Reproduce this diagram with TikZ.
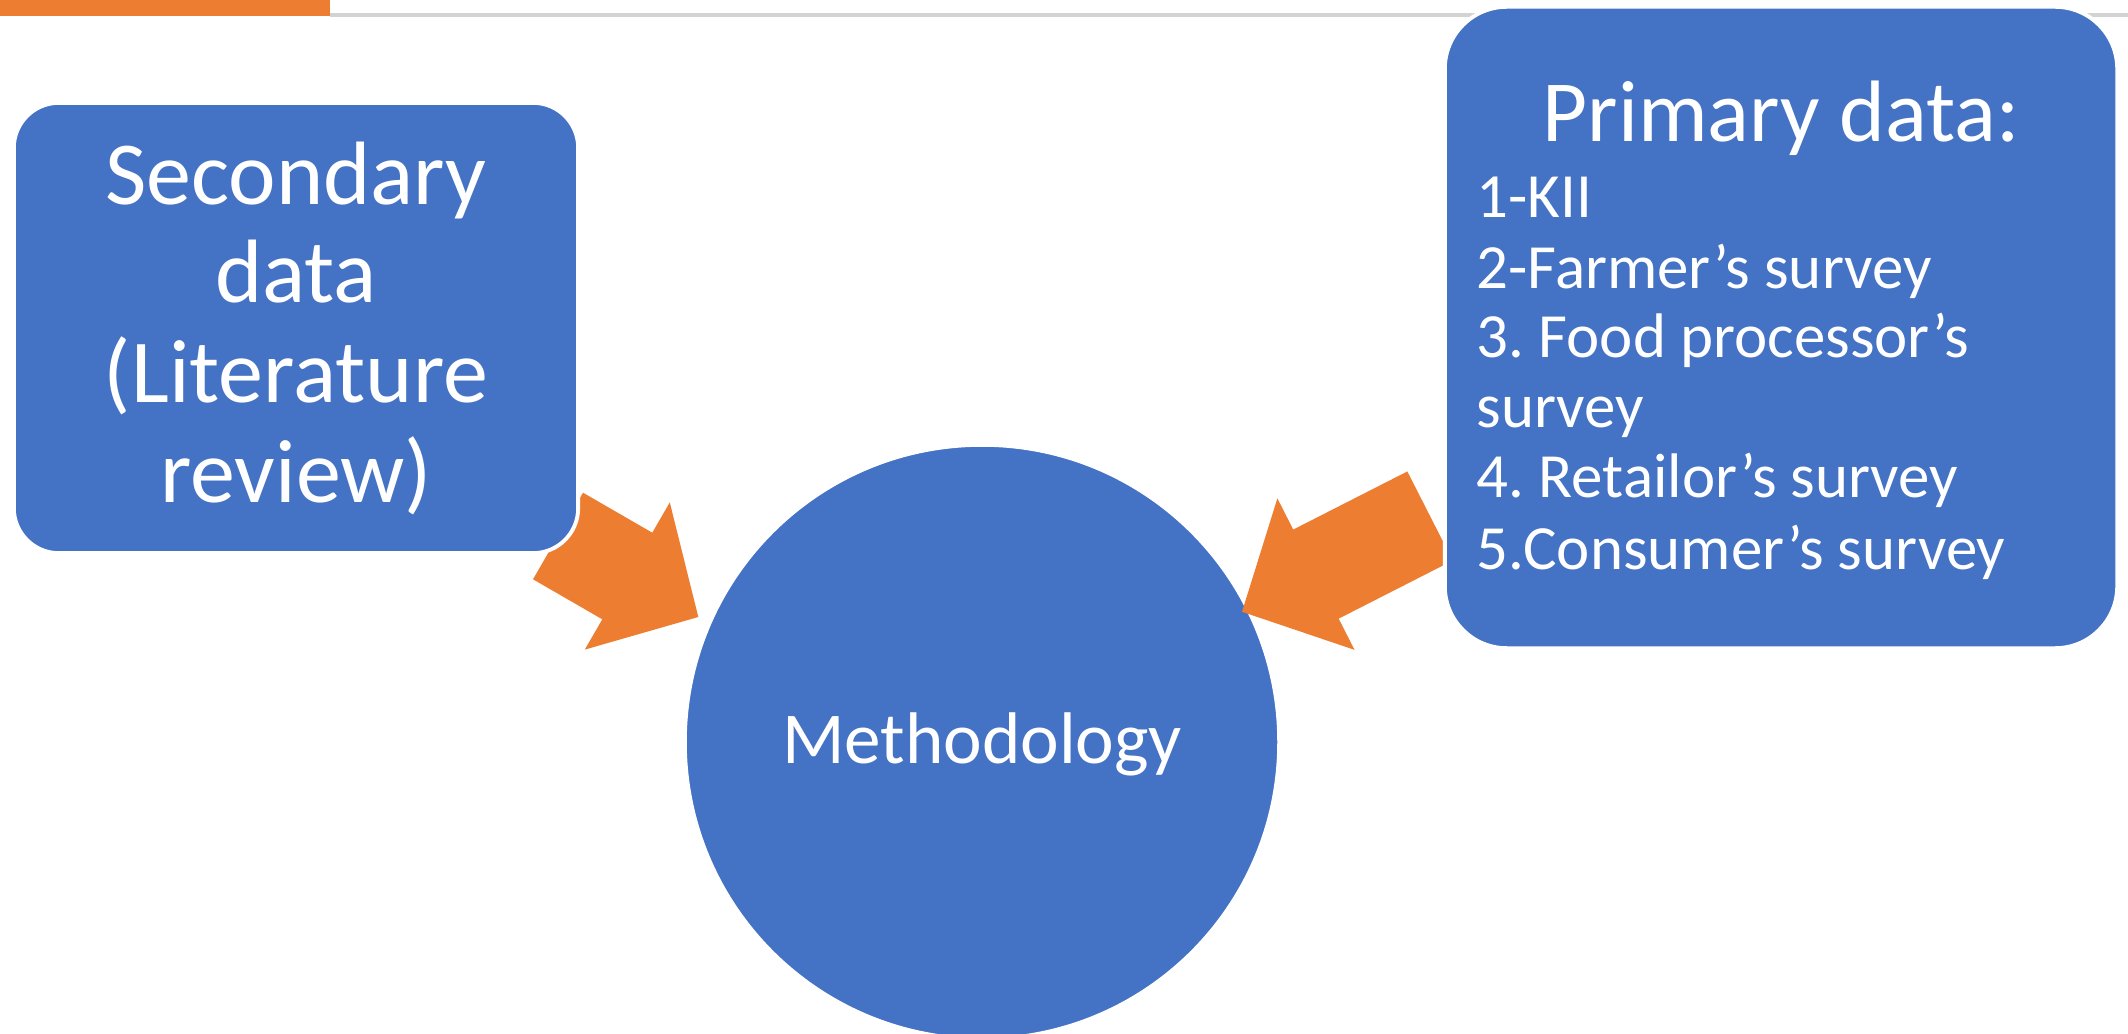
\documentclass[tikz,border=0pt]{standalone}
\usepackage{fontspec}
\setmainfont{Carlito}
\usepackage{tikz}
\frenchspacing
\pgfdeclarelayer{backlayer}
\pgfdeclarelayer{edgelayer}
\pgfsetlayers{backlayer,edgelayer,main}
\definecolor{OfficeBlue}{HTML}{4472C4}
\definecolor{OfficeOrange}{HTML}{ED7D31}
\definecolor{RuleGray}{HTML}{D3D3D3}
\tikzstyle{none}=[inner sep=0pt]
\tikzstyle{databox}=[rectangle,fill=OfficeBlue,draw=white,line width=1.1pt,inner sep=0pt]
\tikzstyle{hub}=[circle,fill=OfficeBlue,draw=white,line width=1.1pt,inner sep=0pt,minimum size=5.94cm]
\tikzstyle{bigtext}=[inner sep=0pt,text=white,font=\fontsize{25.6}{28}\selectfont]
\tikzstyle{headtext}=[inner sep=0pt,text=white,font=\fontsize{24.8}{28}\selectfont]
\tikzstyle{listtext}=[inner sep=0pt,text=white,anchor=base west,font=\fontsize{17.9}{20}\selectfont]
\tikzstyle{hubtext}=[inner sep=0pt,text=white,font=\fontsize{20.8}{24}\selectfont]
\tikzstyle{blockarrow}=[fill=OfficeOrange,draw=none]

\begin{document}
\begin{tikzpicture}[x=0.01cm,y=-0.01cm]
	\useasboundingbox (0,0) rectangle (2128,1034);
	\begin{pgfonlayer}{backlayer}
		\fill [RuleGray] (330,13) rectangle (2128,17);
		\fill [OfficeOrange] (0,0) rectangle (330,16);
		\node [style=hub] (hub) at (982,742) {};
	\end{pgfonlayer}
	\coordinate (secin) at (558,536);
	\coordinate (priin) at (1430,516);
	\begin{pgfonlayer}{edgelayer}
		\begin{scope}[shift={(secin)},rotate=-30]
			\fill [style=blockarrow] (0,50) -- (80,50) -- (80,85) -- (162,0) -- (80,-85) -- (80,-50) -- (0,-50) -- cycle;
		\end{scope}
		\begin{scope}[shift={(priin)},rotate=-153]
			\fill [style=blockarrow] (0,50) -- (128,50) -- (128,85) -- (211,0) -- (128,-85) -- (128,-50) -- (0,-50) -- cycle;
		\end{scope}
	\end{pgfonlayer}
	\node [style=databox,minimum width=5.64cm,minimum height=4.5cm,rounded corners=0.45cm] (secondary) at (296,328) {};
	\node [style=databox,minimum width=6.72cm,minimum height=6.41cm,rounded corners=0.62cm] (primary) at (1781,327.5) {};
	% secondary data text
	\node [style=bigtext,anchor=base] (sec1) at (296,205) {Secondary};
	\node [style=bigtext,anchor=base] (sec2) at (296,303) {data};
	\node [style=bigtext,anchor=base] (sec3) at (296,403) {(Literature};
	\node [style=bigtext,anchor=base] (sec4) at (296,503) {review)};
	% primary data text
	\node [style=headtext,anchor=base] (pri0) at (1781,142) {Primary data:};
	\node [style=listtext] (pri1) at (1476,218) {1-KII};
	\node [style=listtext] (pri2) at (1476,289) {2-Farmer’s survey};
	\node [style=listtext] (pri3) at (1476,358) {3. Food processor’s};
	\node [style=listtext] (pri4) at (1476,428) {survey};
	\node [style=listtext] (pri5) at (1476,498) {4. Retailor’s survey};
	\node [style=listtext] (pri6) at (1476,570) {5.Consumer’s survey};
	\node [style=hubtext,anchor=base] (hublabel) at (982,763) {Methodology};
\end{tikzpicture}
\end{document}
